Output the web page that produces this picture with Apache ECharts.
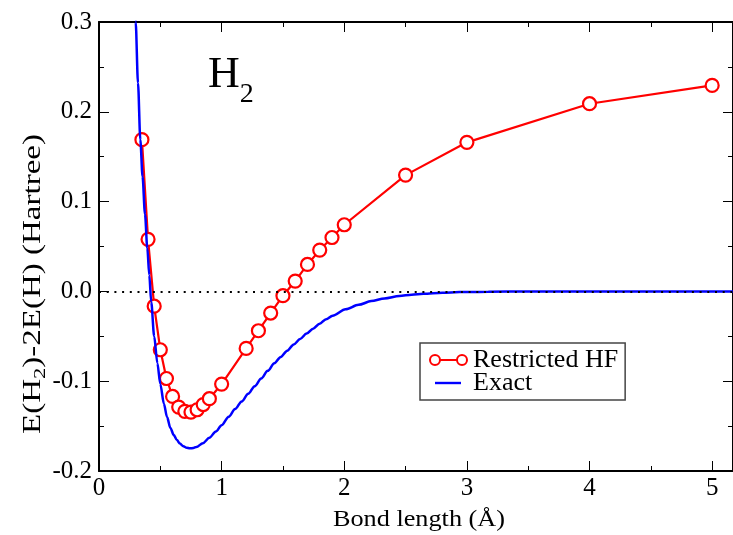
<!DOCTYPE html>
<html>
<head>
<meta charset="utf-8">
<script src="https://cdn.jsdelivr.net/npm/echarts@6/dist/echarts.min.js"></script>
<style>html,body{margin:0;padding:0;background:#fff;}#c{width:733px;height:535px;}</style>
</head>
<body>
<div id="c"></div>
<script>
// Restricted HF (bond length in Å, energy in Hartree)
var hfX = [0.35, 0.40, 0.45, 0.50, 0.55, 0.60, 0.65, 0.70, 0.75, 0.80, 0.85, 0.90, 1.0, 1.2, 1.3, 1.4, 1.5, 1.6, 1.7, 1.8, 1.9, 2.0, 2.5, 3.0, 4.0, 5.0];
var hfY = [0.169, 0.058, -0.0165, -0.065, -0.097, -0.117, -0.1288, -0.1336, -0.1344, -0.1318, -0.126, -0.1195, -0.1032, -0.0635, -0.0438, -0.0241, -0.0048, 0.0115, 0.030, 0.046, 0.060, 0.0742, 0.1295, 0.166, 0.209, 0.2294];
// Exact curve
var exX = [0.287, 0.299, 0.318, 0.337, 0.355, 0.375, 0.394, 0.41, 0.426, 0.45, 0.476, 0.50, 0.529, 0.555, 0.582, 0.61, 0.635, 0.66, 0.688, 0.715, 0.741, 0.77, 0.794, 0.847, 0.90, 0.953, 1.00, 1.058, 1.11, 1.164, 1.217, 1.27, 1.323, 1.376, 1.43, 1.482, 1.535, 1.588, 1.64, 1.693, 1.746, 1.799, 1.852, 1.905, 2.011, 2.117, 2.22, 2.328, 2.45, 2.55, 2.646, 2.80, 2.94, 3.175, 3.5, 4.0, 4.5, 5.0, 5.2];
var exY = [0.36, 0.300, 0.232, 0.169, 0.128, 0.086, 0.048, 0.018, -0.012, -0.050, -0.080, -0.103, -0.125, -0.140, -0.152, -0.160, -0.1655, -0.1695, -0.1725, -0.174, -0.1748, -0.1743, -0.1733, -0.169, -0.163, -0.156, -0.149, -0.1395, -0.131, -0.1225, -0.114, -0.1055, -0.097, -0.0885, -0.080, -0.073, -0.066, -0.059, -0.053, -0.047, -0.0415, -0.036, -0.031, -0.027, -0.020, -0.015, -0.0108, -0.0078, -0.0052, -0.0036, -0.0026, -0.0014, -0.0008, -0.0003, -0.0001, 0, 0, 0, 0];
var xTicks = [0, 1, 2, 3, 4, 5];
var yTicks = [-0.2, -0.1, 0.0, 0.1, 0.2, 0.3];
var seriesNames = ['Restricted HF', 'Exact'];
var xName = 'Bond length (Å)';
var yNameParts = ['E(H', '2', ')-2E(H) (Hartree)'];

var FONT = 'Liberation Serif';
function pairs(xs, ys) { return xs.map(function (x, i) { return [x, ys[i]]; }); }

// text width measurement used to fit axis titles to the reference footprint
var mctx = document.createElement('canvas').getContext('2d');
function tw(t, size) { mctx.font = size + 'px "' + FONT + '"'; return mctx.measureText(t).width; }
var yNameLen = tw(yNameParts[0], 25) + tw(yNameParts[1], 17) + tw(yNameParts[2], 25);
var yScale = 300 / yNameLen;
var xScale = 172 / tw(xName, 24);

var gridRect = { left: 99, top: 22, right: -6, bottom: 64 };
var XMAX = 5.17;

var chart = echarts.init(document.getElementById('c'), null, { renderer: 'canvas' });
chart.setOption({
  animation: false,
  backgroundColor: '#fff',
  title: {
    text: '{h|H}{s|2}',
    left: 208, top: 53, padding: 0,
    textStyle: {
      fontWeight: 'normal',
      rich: {
        h: { fontFamily: FONT, fontSize: 44, fontWeight: 'normal', color: '#000', lineHeight: 44 },
        s: { fontFamily: FONT, fontSize: 28, fontWeight: 'normal', color: '#000', height: 5, lineHeight: 5, verticalAlign: 'bottom' }
      }
    }
  },
  graphic: [
    { type: 'text', x: 33, y: 284, rotation: Math.PI / 2, scaleX: yScale, silent: true,
      style: { text: '{n|' + yNameParts[0] + '}{s|' + yNameParts[1] + '}{n|' + yNameParts[2] + '}',
        align: 'center', verticalAlign: 'middle',
        rich: {
          n: { fontFamily: FONT, fontSize: 25, fill: '#000', lineHeight: 25 },
          s: { fontFamily: FONT, fontSize: 17, fill: '#000', height: 10, lineHeight: 10, verticalAlign: 'bottom' }
        } } },
    { type: 'text', x: 419, y: 520, scaleX: xScale, silent: true,
      style: { text: xName, align: 'center', verticalAlign: 'middle',
        fontFamily: FONT, fontSize: 24, fill: '#000' } }
  ],
  legend: {
    orient: 'vertical',
    left: 420, top: 343,
    padding: [4, 7, 4, 8],
    itemGap: -3,
    itemWidth: 39, itemHeight: 12,
    borderColor: '#444', borderWidth: 1.5,
    backgroundColor: '#fff',
    selectedMode: false,
    textStyle: { fontFamily: FONT, fontSize: 26, color: '#000' },
    data: [
      { name: seriesNames[0],
        icon: 'path://M0,0 M39,12 M1,6 A5,5 0 1 1 11,6 A5,5 0 1 1 1,6 Z M11,6 L28,6 M28,6 A5,5 0 1 1 38,6 A5,5 0 1 1 28,6 Z',
        itemStyle: { color: '#ffffff', borderColor: '#ff0000', borderWidth: 2 } },
      { name: seriesNames[1],
        icon: 'path://M0,0 M39,12 M6,4.8 L32,4.8 L32,7.2 L6,7.2 Z',
        itemStyle: { color: '#0000ff', borderWidth: 0 } }
    ]
  },
  grid: [
    Object.assign({ containLabel: false }, gridRect),
    Object.assign({ containLabel: false }, gridRect)
  ],
  xAxis: [
    { type: 'value', gridIndex: 0, position: 'bottom', min: 0, max: XMAX, interval: 1,
      axisLine: { show: true, onZero: false, lineStyle: { color: '#000', width: 2 } },
      axisTick: { show: true, inside: true, length: 10, lineStyle: { color: '#000', width: 1 } },
      axisLabel: { show: true, margin: 5, fontFamily: FONT, fontSize: 25, color: '#000',
        showMaxLabel: false,
        formatter: function (v) { return xTicks.indexOf(Math.round(v * 1000) / 1000) >= 0 ? String(Math.round(v)) : ''; } },
      splitLine: { show: false } },
    { type: 'value', gridIndex: 0, position: 'top', min: 0, max: XMAX, interval: 1,
      axisLine: { show: true, onZero: false, lineStyle: { color: '#000', width: 2 } },
      axisTick: { show: true, inside: true, length: 10, lineStyle: { color: '#000', width: 1 } },
      axisLabel: { show: false }, splitLine: { show: false } },
    { type: 'value', gridIndex: 1, position: 'bottom', min: 0, max: XMAX, interval: 0.5,
      axisLine: { show: false, onZero: false },
      axisTick: { show: true, inside: true, length: 5, lineStyle: { color: '#000', width: 1 } },
      axisLabel: { show: false }, splitLine: { show: false } },
    { type: 'value', gridIndex: 1, position: 'top', min: 0, max: XMAX, interval: 0.5,
      axisLine: { show: false, onZero: false },
      axisTick: { show: true, inside: true, length: 5, lineStyle: { color: '#000', width: 1 } },
      axisLabel: { show: false }, splitLine: { show: false } }
  ],
  yAxis: [
    { type: 'value', gridIndex: 0, position: 'left', min: -0.2, max: 0.3, interval: 0.1,
      axisLine: { show: true, onZero: false, lineStyle: { color: '#000', width: 2 } },
      axisTick: { show: true, inside: true, length: 10, lineStyle: { color: '#000', width: 1 } },
      minorTick: { show: true, splitNumber: 2, length: 5, lineStyle: { color: '#000', width: 1 } },
      axisLabel: { margin: 7, fontFamily: FONT, fontSize: 25, color: '#000',
        formatter: function (v) { return v.toFixed(1); } },
      splitLine: { show: false } },
    { type: 'value', gridIndex: 0, position: 'right', min: -0.2, max: 0.3, interval: 0.1,
      axisLine: { show: true, onZero: false, lineStyle: { color: '#000', width: 2 } },
      axisTick: { show: true, inside: true, length: 10, lineStyle: { color: '#000', width: 1 } },
      minorTick: { show: true, splitNumber: 2, length: 5, lineStyle: { color: '#000', width: 1 } },
      axisLabel: { show: false }, splitLine: { show: false } },
    { type: 'value', gridIndex: 1, position: 'left', min: -0.2, max: 0.3, show: false }
  ],
  series: [
    { name: seriesNames[0], type: 'line', xAxisIndex: 0, yAxisIndex: 0,
      data: pairs(hfX, hfY),
      symbol: 'circle', symbolSize: 13, showAllSymbol: true,
      itemStyle: { color: '#ffffff', borderColor: '#ff0000', borderWidth: 2.2 },
      lineStyle: { color: '#ff0000', width: 2.2 },
      emphasis: { disabled: true }, z: 2 },
    { name: seriesNames[1], type: 'line', xAxisIndex: 0, yAxisIndex: 0,
      data: pairs(exX, exY),
      symbol: 'none', smooth: 0.3, smoothMonotone: 'x',
      itemStyle: { color: '#0000ff' },
      lineStyle: { color: '#0000ff', width: 2.5 },
      emphasis: { disabled: true }, z: 3,
      markLine: {
        silent: true, symbol: ['none', 'none'], label: { show: false },
        lineStyle: { color: '#000', width: 2, type: [2, 5.7] },
        emphasis: { disabled: true },
        data: [{ yAxis: 0 }]
      } }
  ]
});
</script>
</body>
</html>
